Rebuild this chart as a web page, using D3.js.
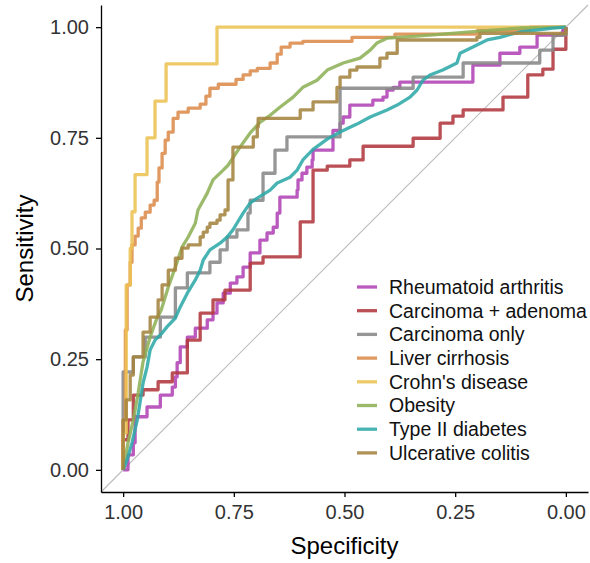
<!DOCTYPE html>
<html>
<head>
<meta charset="utf-8">
<script src="https://cdn.jsdelivr.net/npm/d3@7"></script>
<style>
  html, body { margin: 0; padding: 0; background: #fff; }
  svg { display: block; font-family: "Liberation Sans", Arial, Helvetica, sans-serif; }
</style>
</head>
<body>
<svg id="chart" width="590" height="563"></svg>
<script>
// ROC curves: each point is [specificity, sensitivity]
const rheumatoidArthritis = [[1.000,0.000],[0.989,0.034],[0.977,0.061],[0.973,0.120],[0.946,0.142],[0.916,0.169],[0.889,0.187],[0.882,0.210],[0.878,0.242],[0.871,0.278],[0.855,0.300],[0.837,0.320],[0.810,0.339],[0.797,0.354],[0.788,0.377],[0.774,0.399],[0.758,0.422],[0.743,0.436],[0.729,0.458],[0.713,0.490],[0.691,0.519],[0.675,0.535],[0.661,0.548],[0.652,0.580],[0.646,0.616],[0.607,0.632],[0.605,0.655],[0.596,0.670],[0.585,0.684],[0.573,0.700],[0.571,0.722],[0.526,0.767],[0.510,0.783],[0.503,0.797],[0.488,0.824],[0.436,0.835],[0.413,0.842],[0.404,0.858],[0.390,0.864],[0.375,0.876],[0.210,0.914],[0.149,0.941],[0.104,0.955],[0.065,0.982],[0.007,0.993],[0.000,1.000]];

const carcinomaAdenoma = [[1.000,0.000],[1.000,0.068],[0.989,0.113],[0.977,0.169],[0.955,0.181],[0.921,0.199],[0.889,0.219],[0.855,0.293],[0.826,0.354],[0.797,0.384],[0.770,0.406],[0.713,0.467],[0.684,0.481],[0.600,0.560],[0.571,0.677],[0.539,0.686],[0.488,0.700],[0.458,0.731],[0.345,0.749],[0.284,0.783],[0.255,0.799],[0.232,0.813],[0.142,0.842],[0.086,0.892],[0.052,0.905],[0.029,0.950],[0.000,1.000]];

const carcinomaOnly = [[1.000,0.000],[1.000,0.221],[0.977,0.255],[0.950,0.300],[0.916,0.345],[0.882,0.411],[0.855,0.445],[0.804,0.469],[0.781,0.497],[0.765,0.526],[0.743,0.542],[0.718,0.580],[0.713,0.609],[0.684,0.670],[0.657,0.722],[0.630,0.752],[0.510,0.862],[0.345,0.887],[0.232,0.919],[0.059,0.948],[0.029,0.982],[0.000,1.000]];

const liverCirrhosis = [[1.000,0.000],[1.000,0.113],[0.995,0.316],[0.991,0.418],[0.984,0.469],[0.980,0.508],[0.973,0.528],[0.966,0.546],[0.959,0.569],[0.950,0.582],[0.939,0.598],[0.930,0.609],[0.923,0.650],[0.919,0.682],[0.912,0.715],[0.905,0.745],[0.898,0.763],[0.887,0.794],[0.876,0.808],[0.853,0.817],[0.826,0.826],[0.813,0.844],[0.804,0.862],[0.785,0.871],[0.745,0.882],[0.729,0.892],[0.713,0.901],[0.697,0.907],[0.668,0.919],[0.652,0.939],[0.643,0.955],[0.623,0.964],[0.594,0.968],[0.483,0.977],[0.386,0.984],[0.199,0.993],[0.081,1.000],[0.000,1.000]];

const crohnsDisease = [[1.000,0.000],[1.000,0.083],[0.993,0.417],[0.984,0.500],[0.980,0.583],[0.973,0.667],[0.946,0.750],[0.928,0.833],[0.903,0.917],[0.788,1.000],[0.000,1.000]];

const obesity = [[1.000,0.000],[0.995,0.027],[0.989,0.061],[0.977,0.113],[0.966,0.174],[0.955,0.244],[0.939,0.300],[0.925,0.339],[0.914,0.361],[0.898,0.413],[0.882,0.458],[0.867,0.503],[0.853,0.526],[0.837,0.557],[0.831,0.587],[0.810,0.625],[0.797,0.655],[0.774,0.677],[0.763,0.688],[0.736,0.729],[0.713,0.761],[0.691,0.785],[0.668,0.801],[0.646,0.819],[0.616,0.842],[0.594,0.864],[0.562,0.880],[0.539,0.903],[0.503,0.919],[0.465,0.930],[0.442,0.948],[0.427,0.964],[0.404,0.975],[0.375,0.977],[0.307,0.982],[0.194,0.991],[0.104,0.998],[0.000,1.000]];

const typeIIDiabetes = [[1.000,0.000],[0.991,0.023],[0.980,0.061],[0.968,0.113],[0.961,0.158],[0.955,0.196],[0.946,0.232],[0.939,0.271],[0.928,0.293],[0.912,0.309],[0.901,0.323],[0.882,0.343],[0.871,0.368],[0.855,0.399],[0.837,0.429],[0.826,0.451],[0.819,0.474],[0.804,0.497],[0.781,0.512],[0.765,0.526],[0.752,0.542],[0.743,0.557],[0.729,0.580],[0.713,0.603],[0.697,0.614],[0.668,0.632],[0.652,0.648],[0.623,0.661],[0.607,0.677],[0.594,0.700],[0.571,0.724],[0.539,0.747],[0.510,0.763],[0.472,0.781],[0.442,0.797],[0.404,0.813],[0.381,0.824],[0.352,0.842],[0.336,0.858],[0.323,0.880],[0.307,0.892],[0.278,0.903],[0.246,0.919],[0.239,0.941],[0.210,0.955],[0.178,0.971],[0.149,0.977],[0.104,0.989],[0.029,0.998],[0.000,1.000]];

const ulcerativeColitis = [[1.000,0.000],[1.000,0.113],[0.993,0.158],[0.984,0.214],[0.977,0.255],[0.955,0.311],[0.939,0.345],[0.921,0.384],[0.912,0.418],[0.898,0.451],[0.882,0.478],[0.867,0.501],[0.853,0.508],[0.826,0.526],[0.819,0.537],[0.810,0.548],[0.804,0.557],[0.788,0.564],[0.781,0.576],[0.770,0.587],[0.763,0.655],[0.752,0.729],[0.706,0.752],[0.697,0.774],[0.695,0.794],[0.600,0.813],[0.571,0.831],[0.517,0.864],[0.510,0.887],[0.488,0.903],[0.472,0.910],[0.420,0.930],[0.404,0.941],[0.381,0.971],[0.201,0.977],[0.194,0.986],[0.000,1.000]];

const diseaseNames = ["Rheumatoid arthritis", "Carcinoma + adenoma", "Carcinoma only", "Liver cirrhosis", "Crohn's disease", "Obesity", "Type II diabetes", "Ulcerative colitis"];
const diseaseCurves = [rheumatoidArthritis, carcinomaAdenoma, carcinomaOnly, liverCirrhosis, crohnsDisease, obesity, typeIIDiabetes, ulcerativeColitis];
const axisTicks = [1.00, 0.75, 0.50, 0.25, 0.00];

// styling
const palette = ["#B043B5", "#B0383D", "#878787", "#DC8B4B", "#ECC152", "#8EB156", "#2FA9A9", "#A4843F"];
const stepped = [true, true, true, true, true, false, false, true];

const svg = d3.select("#chart");
const panel = { left: 101, right: 588, top: 5, bottom: 492 };

const x = d3.scaleLinear().domain([1.05, -0.05]).range([panel.left, panel.right]);
const y = d3.scaleLinear().domain([-0.05, 1.05]).range([panel.bottom, panel.top]);

// chance diagonal across the whole panel
svg.append("line")
  .attr("x1", x(1.05)).attr("y1", y(-0.05))
  .attr("x2", x(-0.05)).attr("y2", y(1.05))
  .attr("stroke", "#BEBEBE").attr("stroke-width", 1.2);

// ROC curves
const curvesG = svg.append("g");
diseaseCurves.forEach((pts, i) => {
  const line = d3.line()
    .x(d => x(d[0]))
    .y(d => y(d[1]))
    .curve(stepped[i] ? d3.curveStepAfter : d3.curveLinear);
  curvesG.append("path")
    .attr("d", line(pts))
    .attr("fill", "none")
    .attr("stroke", palette[i])
    .attr("stroke-width", 3.3)
    .attr("stroke-opacity", 0.88)
    .attr("stroke-linejoin", "round");
});

// axes
const fmt = d3.format(".2f");
const xAxis = svg.append("g")
  .attr("transform", `translate(0,${panel.bottom})`)
  .call(d3.axisBottom(x).tickValues(axisTicks).tickFormat(fmt).tickSize(5).tickSizeOuter(0).tickPadding(8));
const yAxis = svg.append("g")
  .attr("transform", `translate(${panel.left},0)`)
  .call(d3.axisLeft(y).tickValues(axisTicks).tickFormat(fmt).tickSize(5).tickSizeOuter(0).tickPadding(7));

[xAxis, yAxis].forEach(g => {
  g.select(".domain").attr("stroke", "#000").attr("stroke-width", 1.3);
  g.selectAll(".tick line").attr("stroke", "#000").attr("stroke-width", 1.3);
  g.selectAll(".tick text")
    .attr("fill", "#333")
    .style("font-size", "20px")
    .style("font-family", "'Liberation Sans', Arial, Helvetica, sans-serif");
});

// axis titles
svg.append("text")
  .attr("x", (panel.left + panel.right) / 2)
  .attr("y", 554)
  .attr("text-anchor", "middle")
  .style("font-size", "24px")
  .attr("fill", "#000")
  .text("Specificity");

svg.append("text")
  .attr("transform", `translate(33,${(panel.top + panel.bottom) / 2}) rotate(-90)`)
  .attr("text-anchor", "middle")
  .style("font-size", "24px")
  .attr("fill", "#000")
  .text("Sensitivity");

// legend
const legend = svg.append("g").attr("transform", "translate(357,287)");
diseaseNames.forEach((name, i) => {
  const row = legend.append("g").attr("transform", `translate(0,${i * 23.7})`);
  row.append("line")
    .attr("x1", 0).attr("x2", 20)
    .attr("y1", 0).attr("y2", 0)
    .attr("stroke", palette[i])
    .attr("stroke-width", 3.3)
    .attr("stroke-opacity", 0.88);
  row.append("text")
    .attr("x", 32)
    .attr("y", 0)
    .attr("dy", "0.35em")
    .style("font-size", "19.5px")
    .attr("fill", "#111")
    .text(name);
});
</script>
</body>
</html>
